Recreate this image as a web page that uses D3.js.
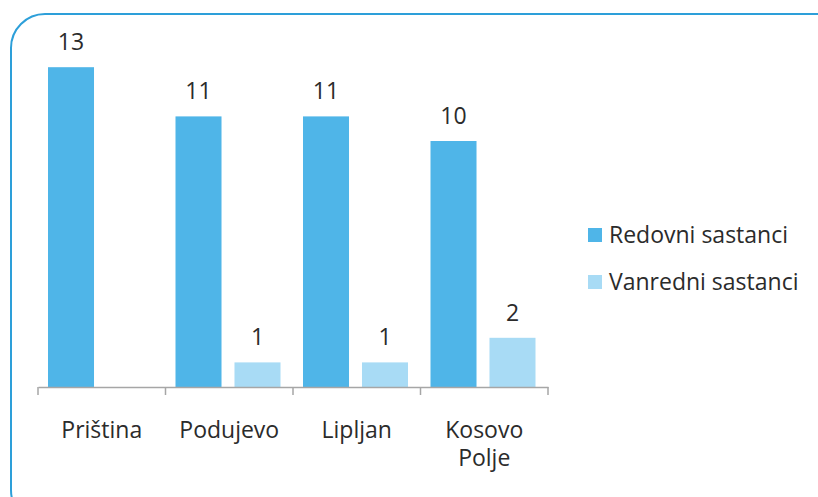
<!DOCTYPE html>
<html>
<head>
<meta charset="utf-8">
<script src="https://cdn.jsdelivr.net/npm/d3@7"></script>
<style>
  body { margin: 0; background: #fff; }
  svg text { font-family: "Open Sans", sans-serif; fill: #2b2b2b; }
</style>
</head>
<body>
<svg id="chart" width="818" height="497"></svg>
<script>
const categories = ["Priština", "Podujevo", "Lipljan", "Kosovo|Polje"];
const seriesNames = ["Redovni sastanci", "Vanredni sastanci"];
const redovni = [13, 11, 11, 10];
const vanredni = [0, 1, 1, 2];
const colors = ["#4fb5e8", "#a8dbf5"];

const svg = d3.select("#chart");

// rounded frame
svg.append("rect")
   .attr("x", 11).attr("y", 14)
   .attr("width", 840).attr("height", 510)
   .attr("rx", 34).attr("ry", 34)
   .attr("fill", "none")
   .attr("stroke", "#2d9fd9")
   .attr("stroke-width", 2);

const plotLeft = 38, plotRight = 548, plotBottom = 387, plotTop = 42.6;

const x = d3.scaleBand().domain(categories).range([plotLeft, plotRight]).paddingInner(0).paddingOuter(0);
const x1 = d3.scaleBand().domain([0, 1]).range([10, 115]).paddingInner(0.22).paddingOuter(0);
const y = d3.scaleLinear().domain([0, 14]).range([plotBottom, plotTop]);

const g = svg.append("g");

const rows = categories.map(function(c, i) {
  return { cat: c, vals: [redovni[i], vanredni[i]] };
});

const groups = g.selectAll(".grp")
  .data(rows)
  .enter().append("g")
  .attr("transform", function(d) { return "translate(" + x(d.cat) + ",0)"; });

groups.selectAll("rect")
  .data(function(d) { return d.vals.map(function(v, j) { return { v: v, j: j }; }); })
  .enter().append("rect")
  .attr("x", function(d) { return x1(d.j); })
  .attr("y", function(d) { return y(d.v); })
  .attr("width", x1.bandwidth())
  .attr("height", function(d) { return plotBottom - y(d.v); })
  .attr("fill", function(d) { return colors[d.j]; });

groups.selectAll(".val")
  .data(function(d) { return d.vals.map(function(v, j) { return { v: v, j: j }; }).filter(function(e) { return e.v > 0; }); })
  .enter().append("text")
  .attr("x", function(d) { return x1(d.j) + x1.bandwidth() / 2; })
  .attr("y", function(d) { return y(d.v) - 17; })
  .attr("text-anchor", "middle")
  .attr("font-size", "23px")
  .text(function(d) { return d.v; });

// x axis
const axis = svg.append("g")
  .attr("transform", "translate(0," + plotBottom + ")")
  .call(d3.axisBottom(x).tickSize(0).tickFormat(""));
axis.select(".domain").attr("stroke", "#a6a6a6").attr("stroke-width", 1.5);

const edges = categories.map(function(c) { return x(c); }).concat([plotRight]);
axis.selectAll(".edge")
  .data(edges)
  .enter().append("line")
  .attr("x1", function(d) { return d; })
  .attr("x2", function(d) { return d; })
  .attr("y1", 0).attr("y2", 8)
  .attr("stroke", "#a6a6a6")
  .attr("stroke-width", 1.5);

const labels = svg.selectAll(".cat")
  .data(categories)
  .enter().append("text")
  .attr("text-anchor", "middle")
  .attr("font-size", "23px")
  .attr("x", function(d) { return x(d) + x.bandwidth() / 2; })
  .attr("y", 438);
labels.selectAll("tspan")
  .data(function(d) { return d.split("|"); })
  .enter().append("tspan")
  .attr("x", function() { return this.parentNode.getAttribute("x"); })
  .attr("dy", function(d, i) { return i === 0 ? 0 : 28; })
  .text(function(d) { return d; });

// legend
const legend = svg.selectAll(".leg")
  .data(seriesNames)
  .enter().append("g")
  .attr("transform", function(d, i) { return "translate(588," + (228 + i * 47) + ")"; });
legend.append("rect")
  .attr("width", 14).attr("height", 14)
  .attr("fill", function(d, i) { return colors[i]; });
legend.append("text")
  .attr("x", 21).attr("y", 15)
  .attr("font-size", "23px")
  .text(function(d) { return d; });
</script>
</body>
</html>
